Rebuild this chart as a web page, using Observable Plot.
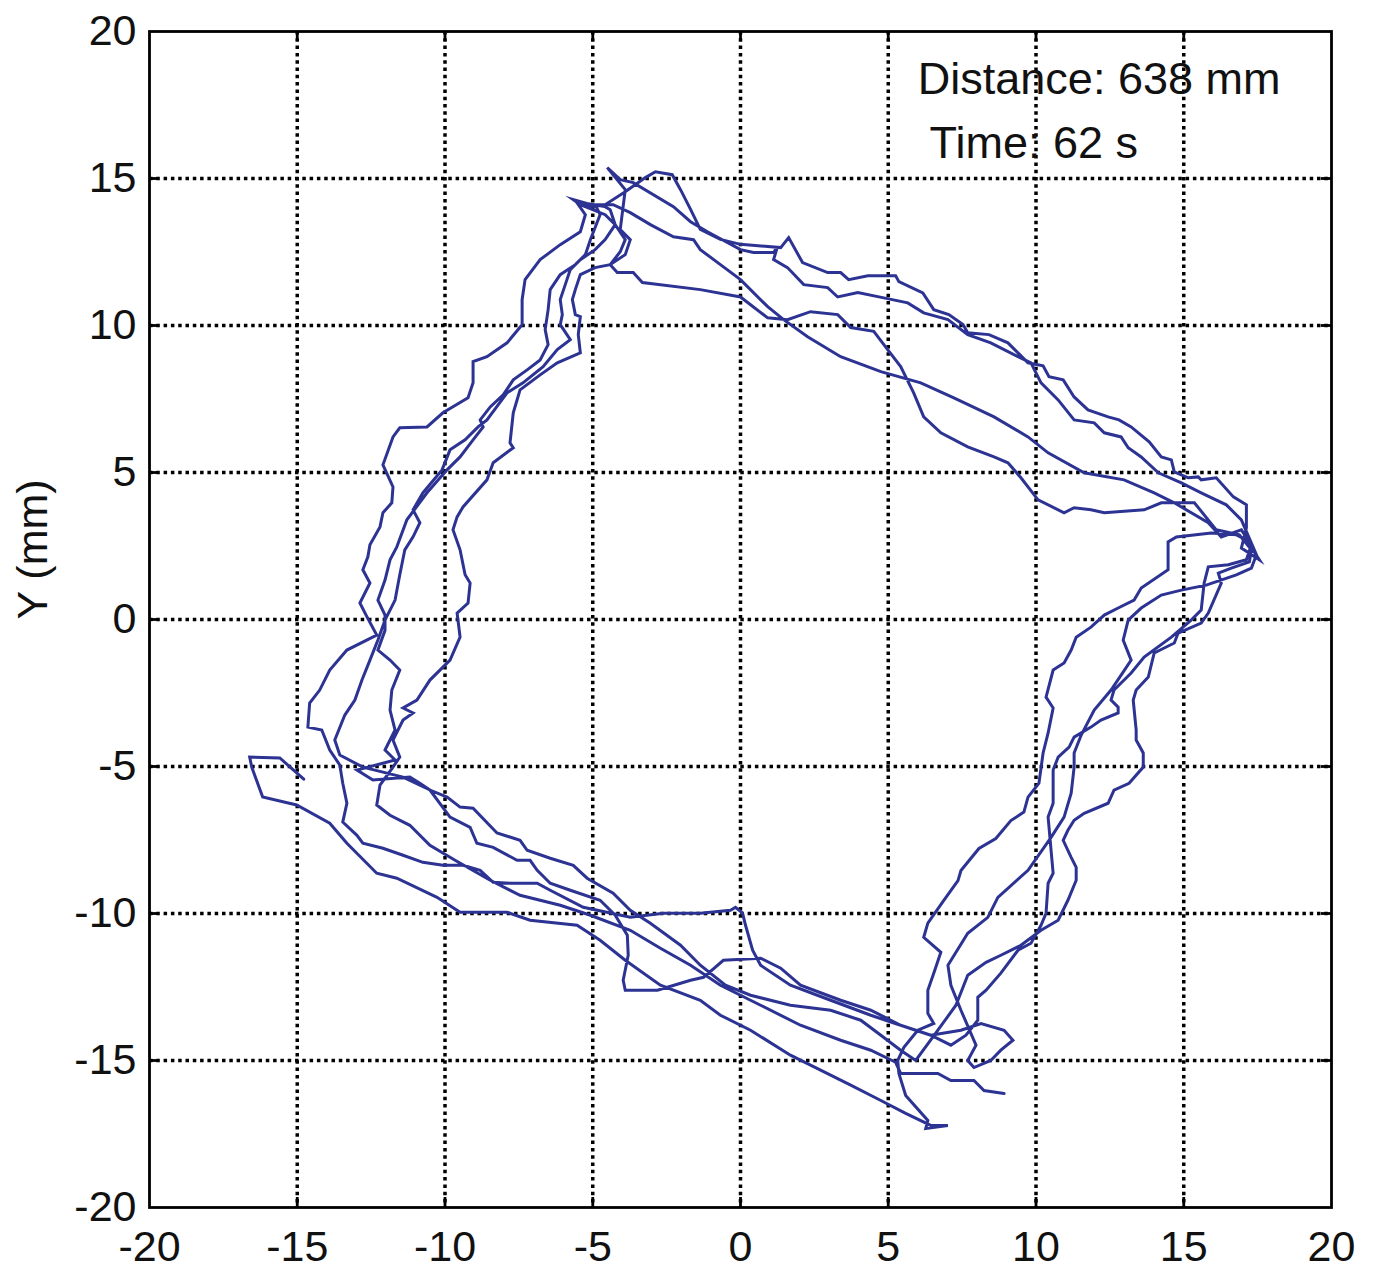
<!DOCTYPE html>
<html>
<head>
<meta charset="utf-8">
<script src="https://cdn.jsdelivr.net/npm/d3@7"></script>
<script src="https://cdn.jsdelivr.net/npm/@observablehq/plot@0.6"></script>
<style>
  html, body { margin: 0; padding: 0; background: #fff; }
  #chart svg { display: block; }
</style>
</head>
<body>
<div id="chart"></div>
<script>
// ---- axis ticks and annotation text ----
const xTicks = [-20, -15, -10, -5, 0, 5, 10, 15, 20];
const yTicks = [-20, -15, -10, -5, 0, 5, 10, 15, 20];
const gridValues = [-15, -10, -5, 0, 5, 10, 15];
const yLabel = "Y (mm)";
const annotations = ["Distance: 638 mm", "Time: 62 s"];
const annotationX = [6.0, 6.4];
const annotationY = [18.37, 16.19];

// ---- trajectory (mm), in drawing order ----
const startTail = [[-14.78,-5.43],[-15.59,-4.71]];
const bl1 = [[-16.61,-4.68],[-16.54,-5.02],[-16.17,-6.04],[-15.02,-6.31],[-13.90,-6.93],[-13.32,-7.61],[-12.31,-8.63],[-11.63,-8.80],[-10.27,-9.45],[-9.49,-9.96],[-7.90,-9.96],[-7.12,-10.23],[-5.53,-10.40],[-4.75,-10.91],[-3.90,-11.59],[-2.71,-12.44],[-1.36,-12.95],[-0.68,-13.46],[0.34,-13.97],[1.69,-14.82],[2.71,-15.33],[3.73,-15.84],[4.75,-16.36],[5.59,-16.80],[6.44,-17.21],[7.02,-17.21],[6.27,-17.31]];
const br1 = [[6.34,-17.04],[5.59,-16.19],[5.36,-15.44],[5.32,-15.00],[5.53,-14.55],[6.00,-13.97],[6.54,-13.74],[6.34,-13.40],[6.34,-12.61],[6.54,-12.03],[6.78,-11.32],[6.20,-10.81],[6.34,-10.33],[6.88,-9.55],[7.36,-8.88],[7.46,-8.54],[8.07,-7.79],[8.64,-7.45],[9.15,-6.84],[9.59,-6.55],[9.73,-6.04],[10.10,-5.57],[10.24,-4.54],[10.41,-3.86],[10.58,-3.01],[10.34,-2.64],[10.58,-1.72],[10.95,-1.48],[11.19,-1.04],[11.36,-0.60],[11.86,-0.26],[12.31,0.15],[12.78,0.39],[13.32,0.66],[13.56,1.07],[14.47,1.69],[14.47,2.64],[14.75,2.81],[15.93,2.94],[16.78,2.88],[17.12,2.71]];
const rc1 = [[17.56,2.03],[16.95,2.43],[17.12,3.12],[17.12,3.90],[16.68,4.17],[16.10,4.82],[15.59,4.75]];
const tr1 = [[15.49,4.85],[15.15,4.82],[14.68,5.02],[14.58,5.43],[14.24,5.53],[13.83,6.04],[13.22,6.55],[12.81,6.79],[12.44,6.89],[11.76,7.13],[11.29,7.57],[10.92,8.15],[10.44,8.26],[10.24,8.63],[9.73,8.73],[9.39,9.07],[9.05,9.41],[8.41,9.69],[7.69,9.75],[7.53,10.03],[7.05,10.37],[6.54,10.54],[6.17,11.11],[5.36,11.49],[5.25,11.69],[4.31,11.69],[3.66,11.56],[3.39,11.80],[2.95,11.80],[2.10,12.14],[1.63,12.99],[1.36,12.65],[0,12.76],[-0.68,12.93],[-1.36,13.27],[-1.69,13.95],[-2.03,14.62],[-2.31,15.13],[-2.88,15.23],[-3.22,15.03]];
const tc1 = [[-3.90,14.55],[-4.58,14.11],[-5.08,14.04],[-5.49,14.11]];
const tl1 = [[-5.25,13.77],[-5.42,13.19],[-6.10,12.75],[-6.78,12.24],[-7.29,11.56],[-7.39,10.88],[-7.39,10.03],[-7.90,9.41],[-8.58,8.94],[-9.05,8.77],[-9.05,8.05],[-9.22,7.54],[-10.07,7.03],[-10.61,6.55],[-11.53,6.52],[-11.76,6.21],[-12.10,5.26],[-11.76,4.51],[-11.80,3.97],[-12.10,3.63],[-12.20,3.15],[-12.54,2.54],[-12.61,2.13],[-12.78,1.69],[-12.54,1.24],[-12.88,0.56],[-12.64,0.09],[-12.31,-0.53],[-13.32,-1.04],[-13.90,-1.72],[-14.24,-2.40],[-14.58,-2.84],[-14.64,-3.66],[-14.17,-3.76],[-13.90,-4.44],[-13.56,-4.95]];
const bl2 = [[-13.46,-5.57],[-13.32,-6.25],[-13.46,-6.89],[-12.98,-7.34],[-12.78,-7.61],[-12.10,-7.78],[-11.42,-8.02],[-10.75,-8.26],[-10.07,-8.36],[-9.39,-8.36],[-8.81,-8.53],[-8.37,-8.94],[-7.80,-8.97],[-6.88,-8.97],[-6.44,-9.21],[-5.32,-9.79],[-3.73,-10.13],[-2.61,-9.99],[-1.36,-9.99],[-0.34,-9.89],[-0.17,-9.79],[0.07,-9.99],[0.17,-10.40],[0.41,-11.25],[0.68,-11.76],[1.69,-12.44],[3.05,-12.95],[4.41,-13.46],[5.42,-13.80],[6.44,-14.14],[7.12,-14.48]];
const br2 = [[7.63,-14.14],[8.03,-13.63],[8.03,-12.85],[8.31,-12.61],[8.81,-12.03],[9.39,-11.25],[9.83,-11.01],[10.17,-10.40],[10.34,-9.99],[10.41,-8.97],[10.58,-8.63],[10.51,-7.85],[10.41,-6.72],[10.58,-6.25],[10.58,-5.12],[10.75,-4.68],[11.12,-4.34],[11.29,-4.00],[11.86,-3.66],[12.20,-3.42],[12.78,-3.18],[12.78,-2.98],[12.54,-2.74],[12.64,-2.40],[13.22,-1.82],[13.66,-1.28],[14.58,-0.60],[15.25,-0.02],[15.59,0.32],[15.69,1.24],[15.83,1.79],[16.51,1.86],[17.12,2.03]];
const rc2 = [[17.29,2.54],[16.95,3.05]];
const tr2 = [[16.27,2.81],[15.83,3.29],[14.68,3.97],[14.00,4.31],[12.98,4.75],[11.63,4.99],[10.41,5.67],[9.73,6.21],[8.58,6.89],[7.22,7.54],[6.10,8.05],[4.75,8.43],[3.39,8.94],[2.27,9.62],[1.46,10.20],[0.92,10.64],[0,11.56],[-0.68,12.07],[-1.36,12.58],[-1.59,12.92],[-2.27,13.02],[-3.05,13.43],[-3.73,13.84],[-4.31,14.11],[-4.92,14.11]];
const tl2 = [[-4.75,13.77],[-5.08,12.92],[-5.25,12.41],[-5.59,12.07],[-6.10,11.73],[-6.44,11.22],[-6.51,10.54],[-6.61,9.86],[-6.51,9.35],[-6.78,8.83],[-7.22,8.49],[-7.69,8.15],[-8.03,7.64],[-8.47,7.23],[-8.81,6.79],[-8.71,6.55],[-9.05,6.11],[-9.49,5.53],[-9.93,5.09],[-10.61,4.31],[-11.29,3.39],[-11.63,2.47],[-11.86,2.03],[-12.03,1.34],[-12.27,0.66],[-12.03,0.15],[-12.03,-0.37],[-12.27,-1.04],[-11.86,-1.38],[-11.53,-1.72],[-11.80,-2.40],[-11.86,-3.08],[-11.69,-3.76],[-12.03,-4.44],[-11.69,-4.78]];
const bl3 = [[-12.98,-5.12],[-12.44,-5.46],[-11.19,-5.36],[-10.85,-5.57],[-10.51,-5.80],[-9.93,-6.04],[-9.49,-6.38],[-9.05,-6.42],[-8.24,-7.26],[-7.46,-7.51],[-7.22,-7.85],[-6.44,-8.12],[-5.66,-8.36],[-5.19,-8.80],[-4.31,-9.31],[-3.73,-9.89],[-3.05,-10.33],[-2.03,-11.08],[-1.36,-11.76],[-0.51,-12.44],[0.34,-12.78],[1.69,-13.12],[3.05,-13.29],[4.07,-13.63],[4.75,-14.14],[5.42,-14.65],[5.93,-15.00]];
const br3 = [[6.68,-13.97],[7.29,-13.12],[7.69,-12.10],[8.31,-11.66],[8.81,-11.42],[9.49,-11.08],[10.17,-10.57],[10.75,-10.23],[11.08,-9.55],[11.36,-8.87],[11.36,-8.43],[11.19,-8.09],[10.92,-7.51],[11.08,-7.17],[11.29,-6.83],[11.63,-6.59],[12.44,-6.25],[12.64,-5.80],[13.15,-5.57],[13.63,-5.02],[13.63,-4.54],[13.39,-4.10],[13.39,-3.76],[13.29,-2.74],[13.39,-2.40],[13.80,-1.96],[14.00,-1.14],[14.68,-0.80],[14.81,-0.46],[15.59,-0.12],[15.83,0.22],[16.27,1.24],[16.17,1.58],[16.61,1.75],[17.22,1.96]];
const rc3 = [[17.29,2.37],[16.88,2.88],[16.10,3.05]];
const tr3 = [[15.36,3.97],[14.24,3.97],[13.66,3.73],[12.31,3.63],[11.86,3.73],[11.29,3.80],[10.95,3.63],[10.07,4.07],[9.49,4.82],[9.05,5.33],[8.58,5.53],[7.69,5.87],[6.78,6.35],[6.20,6.89],[5.86,7.71],[5.42,8.60],[4.98,9.18],[4.51,9.80],[3.73,9.93],[3.29,10.37],[2.37,10.47],[1.59,10.20],[0.92,10.26],[0,10.97],[-1.36,11.22],[-3.32,11.46],[-3.63,11.80],[-4.17,11.80],[-4.41,12.07],[-4.07,12.51],[-3.90,12.92],[-4.24,13.43],[-4.58,13.77]];
const tc3 = [[-5.42,14.11],[-5.66,14.28],[-5.20,14.15],[-4.60,14.05]];
const tl3 = [[-4.41,13.94],[-4.24,13.43],[-4.58,12.92],[-4.92,12.58],[-5.42,12.24],[-5.76,11.90],[-5.93,11.39],[-6.10,10.88],[-6.03,10.37],[-6.10,10.03],[-5.76,9.52],[-6.20,9.18],[-6.68,8.60],[-7.36,8.05],[-7.90,7.71],[-8.58,6.79],[-8.88,6.55],[-9.32,6.11],[-9.83,5.77],[-10.10,5.09],[-10.75,4.31],[-11.08,3.73],[-10.85,3.29],[-11.08,2.81],[-11.36,2.37],[-11.53,1.52],[-11.69,0.66],[-12.03,-0.02],[-12.27,-0.70],[-12.54,-1.38],[-12.81,-2.06],[-13.05,-2.74],[-13.39,-3.25],[-13.73,-4.10]];
const bl4 = [[-13.56,-4.61],[-12.78,-5.02],[-12.10,-5.19],[-11.42,-5.36],[-10.51,-5.80],[-9.83,-6.72],[-9.15,-7.07],[-8.92,-7.61],[-8.37,-7.75],[-7.56,-8.19],[-7.12,-8.19],[-6.88,-8.53],[-6.44,-8.97],[-5.76,-9.21],[-4.75,-9.55],[-4.24,-10.06],[-3.83,-10.74],[-3.80,-11.42],[-3.97,-12.27],[-3.90,-12.61],[-2.81,-12.61],[-1.69,-12.27],[-1.25,-12.17],[-0.58,-11.59],[0.68,-11.52],[1.36,-11.86],[2.03,-12.44],[3.39,-12.95],[4.41,-13.29],[5.42,-13.80],[6.44,-14.14]];
const br4 = [[7.46,-13.97],[8.14,-13.74],[8.92,-13.97],[9.22,-14.31],[8.81,-14.65],[8.47,-15.00],[7.90,-15.24],[7.69,-15.00],[7.97,-14.48],[7.46,-13.29],[7.12,-12.44],[7.02,-11.76],[7.69,-10.67],[8.37,-10.13],[8.71,-9.45],[9.73,-8.53],[10.51,-7.41],[10.95,-6.72],[11.19,-5.91],[11.29,-5.02],[11.29,-4.54],[11.53,-3.93],[11.97,-3.08],[12.54,-2.40],[12.88,-1.89],[13.22,-1.38],[12.95,-0.70],[13.12,-0.02],[13.56,0.39],[14.24,0.83],[14.92,1.00],[15.76,1.17],[16.78,1.52],[17.29,1.75]];
const rc4 = [[17.46,2.20],[16.95,3.39],[16.44,3.90]];
const tr4 = [[15.59,4.31],[14.92,4.65],[14.14,4.99],[13.56,5.53],[13.12,5.84],[12.88,6.21],[12.31,6.35],[11.97,6.69],[11.29,6.79],[10.75,7.47],[10.17,8.05],[9.83,8.73],[9.39,8.94],[8.47,9.41],[7.69,9.69],[7.02,10.20],[6.20,10.43],[5.66,10.77],[4.85,10.94],[3.97,11.12],[3.29,10.97],[2.95,11.29],[2.14,11.39],[1.59,11.97],[1.12,12.24],[1.25,12.68],[1.12,12.48],[0.44,12.48],[0,12.58],[-1.12,13.19],[-1.69,13.53],[-2.27,14.04],[-3.63,14.86],[-4.07,14.96],[-4.51,15.37],[-3.90,14.62]];
const tl4 = [[-4.07,13.26],[-3.73,12.92],[-3.90,12.41],[-4.41,12.07],[-4.92,11.97],[-5.42,11.73],[-5.59,11.22],[-5.69,10.88],[-5.59,10.37],[-5.42,10.30],[-5.49,9.69],[-5.42,9.07],[-6.20,8.73],[-6.78,8.32],[-7.46,7.81],[-7.69,7.03],[-7.80,6.01],[-7.69,5.84],[-8.37,5.33],[-8.58,4.75],[-9.39,3.83],[-9.59,3.49],[-9.73,3.05],[-9.49,2.37],[-9.32,1.52],[-9.15,1.24],[-9.22,0.56],[-9.59,0.22],[-9.49,-0.60],[-9.83,-1.38],[-10.51,-2.06],[-10.95,-2.74],[-11.42,-3.01],[-11.08,-3.18],[-11.42,-3.42],[-11.76,-4.10],[-11.53,-4.68],[-11.76,-5.02]];
const bl5 = [[-12.20,-5.63],[-12.31,-6.31],[-11.86,-6.66],[-11.19,-7.00],[-10.51,-7.68],[-9.66,-8.19],[-8.47,-8.87],[-7.46,-9.38],[-6.10,-9.72],[-5.08,-10.06],[-3.73,-10.57],[-2.71,-11.18],[-1.69,-11.76],[-0.68,-12.44],[0.68,-13.12],[2.03,-13.80],[3.39,-14.31],[4.41,-14.65],[5.25,-15.06],[5.42,-15.44],[6.68,-15.44],[7.12,-15.68],[7.90,-15.68],[8.24,-16.02],[8.92,-16.12]];

const segments = [startTail, bl1, br1, rc1, tr1, tc1, tl1, bl2, br2, rc2, tr2, tl2,
                  bl3, br3, rc3, tr3, tc3, tl3, bl4, br4, rc4, tr4, tl4, bl5];
const path = segments.flat().map(([x, y], i) => ({x, y, i}));

const font = "'Liberation Sans', Arial, Helvetica, sans-serif";
const ink = "#000";
const tickLen = 0.34; // inward tick length, in axis units (~10px)

const chart = Plot.plot({
  width: 1374,
  height: 1273,
  marginLeft: 149,
  marginRight: 43,
  marginTop: 31,
  marginBottom: 66,
  style: {fontFamily: font, fontSize: "43px", background: "#fff", color: "#111", overflow: "visible"},
  x: {domain: [-20, 20], ticks: xTicks, tickFormat: d => String(d), tickSize: 0, tickPadding: 23, label: null},
  y: {domain: [-20, 20], ticks: yTicks, tickFormat: d => String(d), tickSize: 0, tickPadding: 13, label: null},
  marks: [
    Plot.gridX(gridValues, {stroke: ink, strokeOpacity: 1, strokeWidth: 3.5, strokeDasharray: "3.5,3.8"}),
    Plot.gridY(gridValues, {stroke: ink, strokeOpacity: 1, strokeWidth: 3.5, strokeDasharray: "3.5,3.8"}),
    Plot.ruleX(gridValues, {x: d => d, y1: -20, y2: -20 + tickLen, stroke: ink, strokeWidth: 2.8}),
    Plot.ruleX(gridValues, {x: d => d, y1: 20, y2: 20 - tickLen, stroke: ink, strokeWidth: 2.8}),
    Plot.ruleY(gridValues, {y: d => d, x1: -20, x2: -20 + tickLen, stroke: ink, strokeWidth: 2.8}),
    Plot.ruleY(gridValues, {y: d => d, x1: 20, x2: 20 - tickLen, stroke: ink, strokeWidth: 2.8}),
    Plot.line(path, {x: "x", y: "y", stroke: "#2c3393", strokeWidth: 3, strokeLinejoin: "miter", strokeMiterlimit: 6, curve: "linear"}),
    Plot.frame({stroke: ink, strokeWidth: 2.8}),
    Plot.text(annotations, {x: (d, i) => annotationX[i], y: (d, i) => annotationY[i], text: d => d,
      textAnchor: "start", fontSize: 45, fill: "#111", fontFamily: font}),
    Plot.text([yLabel], {frameAnchor: "left", text: d => d, rotate: -90, dx: -116, fontSize: 43, fill: "#111", fontFamily: font})
  ]
});

document.getElementById("chart").appendChild(chart);
</script>
</body>
</html>
